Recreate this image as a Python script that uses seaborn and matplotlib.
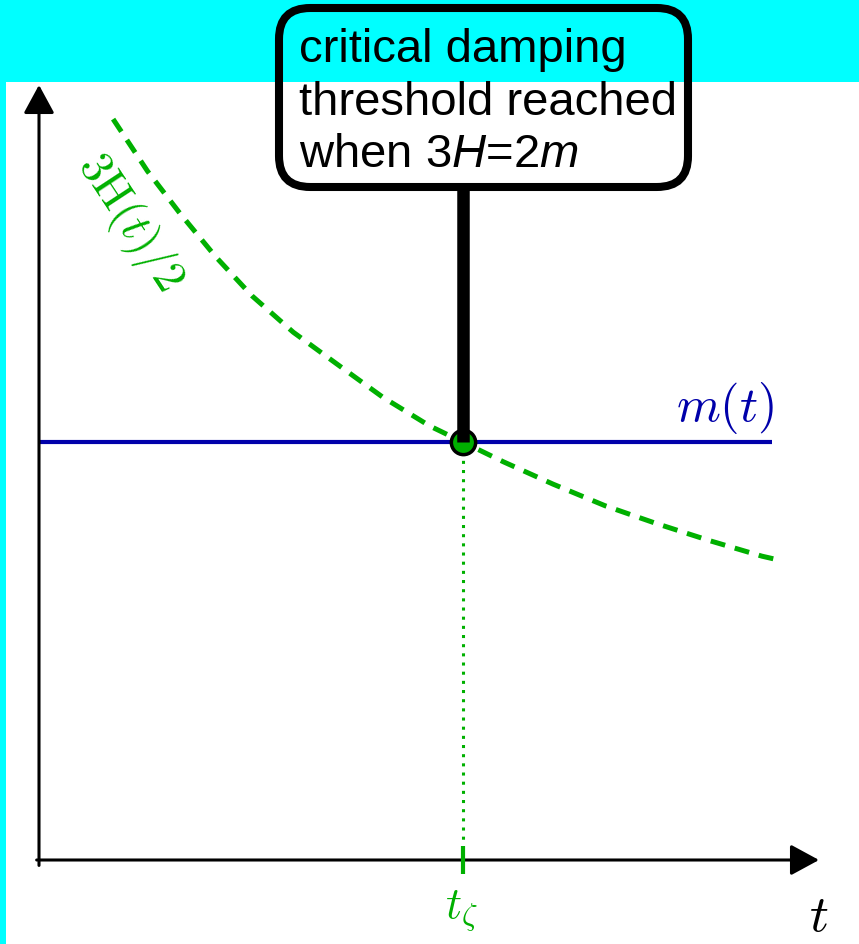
import matplotlib
matplotlib.use("Agg")
import matplotlib.pyplot as plt
from matplotlib.patches import FancyBboxPatch
import seaborn as sns

# Hubble-friction curve 3H(t)/2 read along the time axis
t_curve = [0.95, 1.39, 1.81, 2.26, 2.73, 3.26, 3.86, 4.41, 5.01, 5.44,
           5.95, 6.59, 7.26, 7.92, 8.60, 9.27, 9.53]
h_curve = [9.56, 8.89, 8.34, 7.79, 7.28, 6.81, 6.37, 5.97, 5.60, 5.39,
           5.14, 4.85, 4.57, 4.34, 4.12, 3.92, 3.86]

# constant mass m(t)
t_mass = [0.0, 9.40]
m_value = 5.39

# crossing time t_zeta and axis extents
t_zeta = 5.44
axis_max = 10.0

callout_lines = ["critical damping", "threshold reached",
                 r"when $\mathit{3H}$=$\mathit{2m}$"]

GREEN = "#00b000"
BLUE = "#0000aa"
CYAN = "#00ffff"

sns.set_theme(style="white")
plt.rcParams["font.family"] = ["Liberation Sans", "DejaVu Sans"]
plt.rcParams["mathtext.fontset"] = "custom"
plt.rcParams["mathtext.rm"] = "Liberation Sans"
plt.rcParams["mathtext.it"] = "Liberation Sans:italic"

W, H = 859, 945
fig = plt.figure(figsize=(W / 100, H / 100), dpi=100, facecolor=CYAN)
ax = fig.add_axes([6 / W, 0, (W - 6) / W, (H - 83) / H])
ax.set_facecolor("white")
for s in ax.spines.values():
    s.set_visible(False)
ax.set_xticks([])
ax.set_yticks([])

# pixel scale of the drawing: 78 px per unit in t, 77.5 px per unit vertically
ax.set_xlim(-33 / 78, (W - 39) / 78)
ax.set_ylim(-(945 - 861) / 77.5, (861 - 83) / 77.5)

# axes with arrow heads
arrow = dict(arrowstyle="-|>,head_length=1.75,head_width=0.95",
             mutation_scale=10, lw=2.2, color="black", shrinkA=0, shrinkB=0)
ax.annotate("", xy=(axis_max, 0), xytext=(-0.03, 0), arrowprops=arrow,
            annotation_clip=False)
ax.annotate("", xy=(0, axis_max), xytext=(0, -0.07), arrowprops=arrow,
            annotation_clip=False)

# curves
sns.lineplot(x=t_curve, y=h_curve, ax=ax, color=GREEN, lw=3.6,
             linestyle=(0, (3, 2)), dash_capstyle="butt", zorder=3)
sns.lineplot(x=t_mass, y=[m_value, m_value], ax=ax, color=BLUE, lw=3.0,
             solid_capstyle="butt", zorder=2)

# vertical marker at t_zeta
ax.plot([t_zeta, t_zeta], [m_value, 0.2], color=GREEN, lw=2.2,
        linestyle=(0, (1, 2)), dash_capstyle="butt", zorder=2)
ax.plot([t_zeta, t_zeta], [0.18, -0.18], color=GREEN, lw=3.0,
        solid_capstyle="butt", zorder=4)

# crossing point and callout stem
ax.plot([t_zeta], [m_value], marker="o", ms=17.5, mfc=GREEN, mec="black",
        mew=2.5, zorder=5)
box_bottom = (861 - 188) / 77.5
box_top = (861 - 9) / 77.5
box_left = (279 - 39) / 78
box_right = (688 - 39) / 78
ax.plot([t_zeta, t_zeta], [m_value, box_bottom], color="black", lw=9,
        solid_capstyle="butt", zorder=6, clip_on=False)
box = FancyBboxPatch((box_left, box_bottom), box_right - box_left,
                     box_top - box_bottom,
                     boxstyle="round,pad=0,rounding_size=0.4",
                     fc="none", ec="black", lw=5.8, zorder=7, clip_on=False)
ax.add_patch(box)
for line, base_px in zip(callout_lines, [62, 115, 167]):
    ax.text((299 - 39) / 78, (861 - base_px) / 77.5, line, fontsize=34,
            ha="left", va="baseline", color="black", zorder=8, clip_on=False)

# labels
ax.text(1.17, 8.24, r"$3\mathrm{H}(t)/2$", math_fontfamily="cm",
        fontsize=33, color=GREEN, rotation=-56.7, rotation_mode="anchor",
        ha="center", va="center")
ax.text(8.80, (861 - 421) / 77.5, r"$m(t)$", math_fontfamily="cm",
        fontsize=36, color=BLUE, ha="center", va="baseline")
ax.text(5.41, -0.36, r"$t_\zeta$", math_fontfamily="cm", fontsize=32,
        color=GREEN, ha="center", va="top")
ax.text(10.0, -0.40, r"$t$", math_fontfamily="cm", fontsize=38,
        color="black", ha="center", va="top")

fig.savefig("out.png", dpi=100, facecolor=CYAN)
